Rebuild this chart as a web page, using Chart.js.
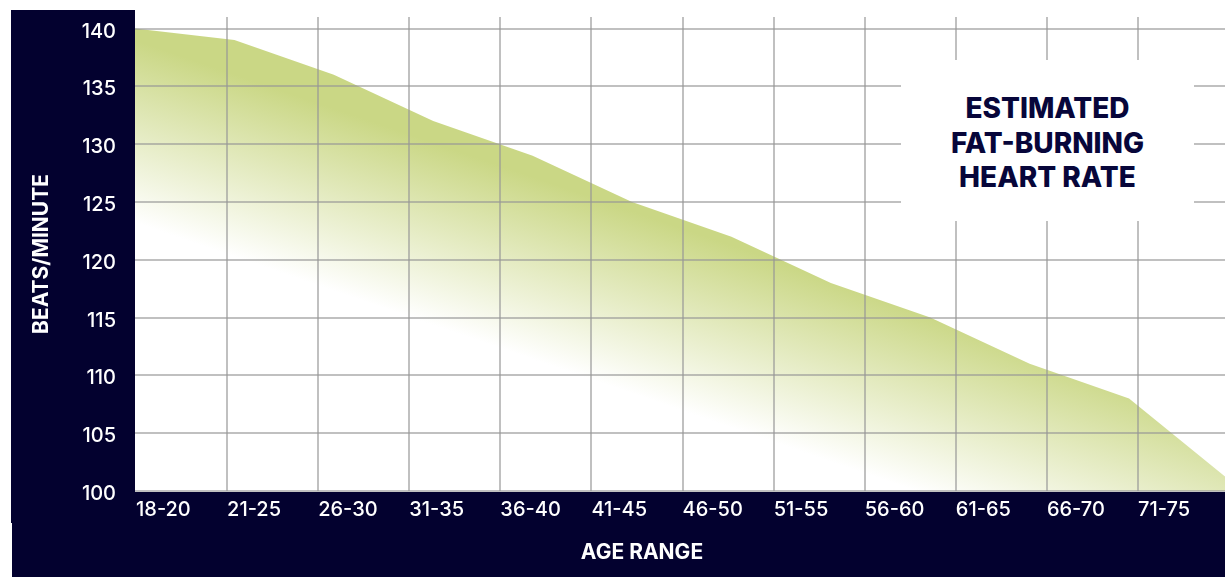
<!DOCTYPE html>
<html>
<head>
<meta charset="utf-8">
<title>Estimated Fat-Burning Heart Rate</title>
<script src="https://cdn.jsdelivr.net/npm/chart.js@4.4.1/dist/chart.umd.min.js"></script>
<style>
  html, body { margin: 0; padding: 0; background: #ffffff; }
  #wrap { position: relative; width: 1225px; height: 577px; overflow: hidden; }
  .navy { position: absolute; background: #03012f; }
  #chart { position: absolute; left: 0; top: 0; }
  #heading {
    position: absolute; left: 901px; top: 60px; width: 293px; height: 161px;
    box-sizing: border-box; padding-top: 31px; background: #ffffff;
    text-align: center; color: #07063a;
    font-family: Inter, "Open Sans", sans-serif; font-weight: 800; font-size: 28px; line-height: 34.5px;
  }
  #xTitle {
    position: absolute; left: 542px; top: 540px; width: 200px; text-align: center;
    color: #ffffff; font-family: Inter, "Open Sans", sans-serif; font-weight: 700;
    font-size: 21px; line-height: 24px;
  }
</style>
</head>
<body>
<div id="wrap">
  <div class="navy" style="left:11px; top:10px; width:124px; height:513px;"></div>
  <div class="navy" style="left:12px; top:492px; width:1213px; height:85px;"></div>
  <canvas id="chart" width="1225" height="577"></canvas>
  <div id="heading">ESTIMATED<br>FAT-BURNING<br>HEART RATE</div>
  <div id="xTitle">AGE RANGE</div>
</div>
<script>
// Age bands shown along the bottom axis
const ageRanges = ['18-20', '21-25', '26-30', '31-35', '36-40', '41-45',
                   '46-50', '51-55', '56-60', '61-65', '66-70', '71-75'];

// Estimated fat-burning heart rate (beats per minute) per age band
const fatBurnBpm = [140, 139, 136, 132, 129, 125, 122, 118, 115, 111, 108, 101];

// Beats/minute axis range and tick step
const bpmMin = 100;
const bpmMax = 140;
const bpmStep = 5;

const GRID = 'rgba(150,150,150,0.6)';
const GREEN = '#cad785';
const FONT = 'Inter, "Open Sans", sans-serif';

// Diagonal green-to-white fade under the curve
function fadeFill(context) {
  const { ctx, chartArea } = context.chart;
  if (!chartArea) return GREEN;
  const g = ctx.createLinearGradient(
    chartArea.left + 6, chartArea.top - 7,
    chartArea.left - 60, chartArea.top + 185
  );
  g.addColorStop(0, GREEN);
  g.addColorStop(0.15, GREEN);
  g.addColorStop(1, '#ffffff');
  return g;
}

// Fixed axis sizes so the plot area sits flush against the navy frame
function fixWidth(w) {
  return (s) => { s.width = w; s.paddingTop = 0; s.paddingBottom = 0; };
}
function fixHeight(h) {
  return (s) => { s.height = h; s.paddingLeft = 0; s.paddingRight = 0; };
}

const points = fatBurnBpm.map((v, i) => ({ x: i, y: v }));

new Chart(document.getElementById('chart'), {
  type: 'line',
  data: {
    datasets: [{
      label: 'Fat-burning heart rate',
      data: points,
      xAxisID: 'xData',
      yAxisID: 'y',
      fill: 'start',
      backgroundColor: fadeFill,
      borderWidth: 0,
      borderColor: 'rgba(0,0,0,0)',
      pointRadius: 0,
      tension: 0
    }]
  },
  options: {
    responsive: false,
    devicePixelRatio: 1,
    animation: false,
    layout: { padding: { top: 17, left: 0, right: 0, bottom: 0 } },
    plugins: {
      legend: { display: false },
      tooltip: { enabled: false },
      title: { display: false }
    },
    scales: {
      x: {
        type: 'linear',
        position: 'bottom',
        min: -0.011,
        max: 11.955,
        afterFit: fixHeight(86),
        border: { display: false },
        grid: {
          color: (c) => (c.tick && c.tick.value === 0) ? 'rgba(0,0,0,0)' : GRID,
          lineWidth: 2,
          drawTicks: false,
          z: 1
        },
        ticks: {
          stepSize: 1,
          maxTicksLimit: 20,
          includeBounds: false,
          autoSkip: false,
          maxRotation: 0,
          align: 'start',
          padding: 7,
          color: '#ffffff',
          font: { family: FONT, size: 20, weight: '500' },
          callback: (v) => (Number.isInteger(v) && ageRanges[v] !== undefined) ? ageRanges[v] : ''
        }
      },
      xData: {
        type: 'linear',
        display: false,
        min: 0,
        max: 10.965
      },
      y: {
        type: 'linear',
        position: 'left',
        min: bpmMin,
        max: bpmMax + 1,
        afterFit: fixWidth(135),
        border: { display: false },
        grid: { color: GRID, lineWidth: 2, drawTicks: false, z: 1 },
        ticks: {
          stepSize: bpmStep,
          includeBounds: false,
          padding: 19,
          labelOffset: 3,
          color: '#ffffff',
          font: { family: FONT, size: 20, weight: '500' }
        },
        title: {
          display: true,
          text: 'BEATS/MINUTE',
          color: '#ffffff',
          font: { family: FONT, size: 21, weight: '700' },
          padding: { top: 29, bottom: 0 }
        }
      }
    }
  }
});
</script>
</body>
</html>
